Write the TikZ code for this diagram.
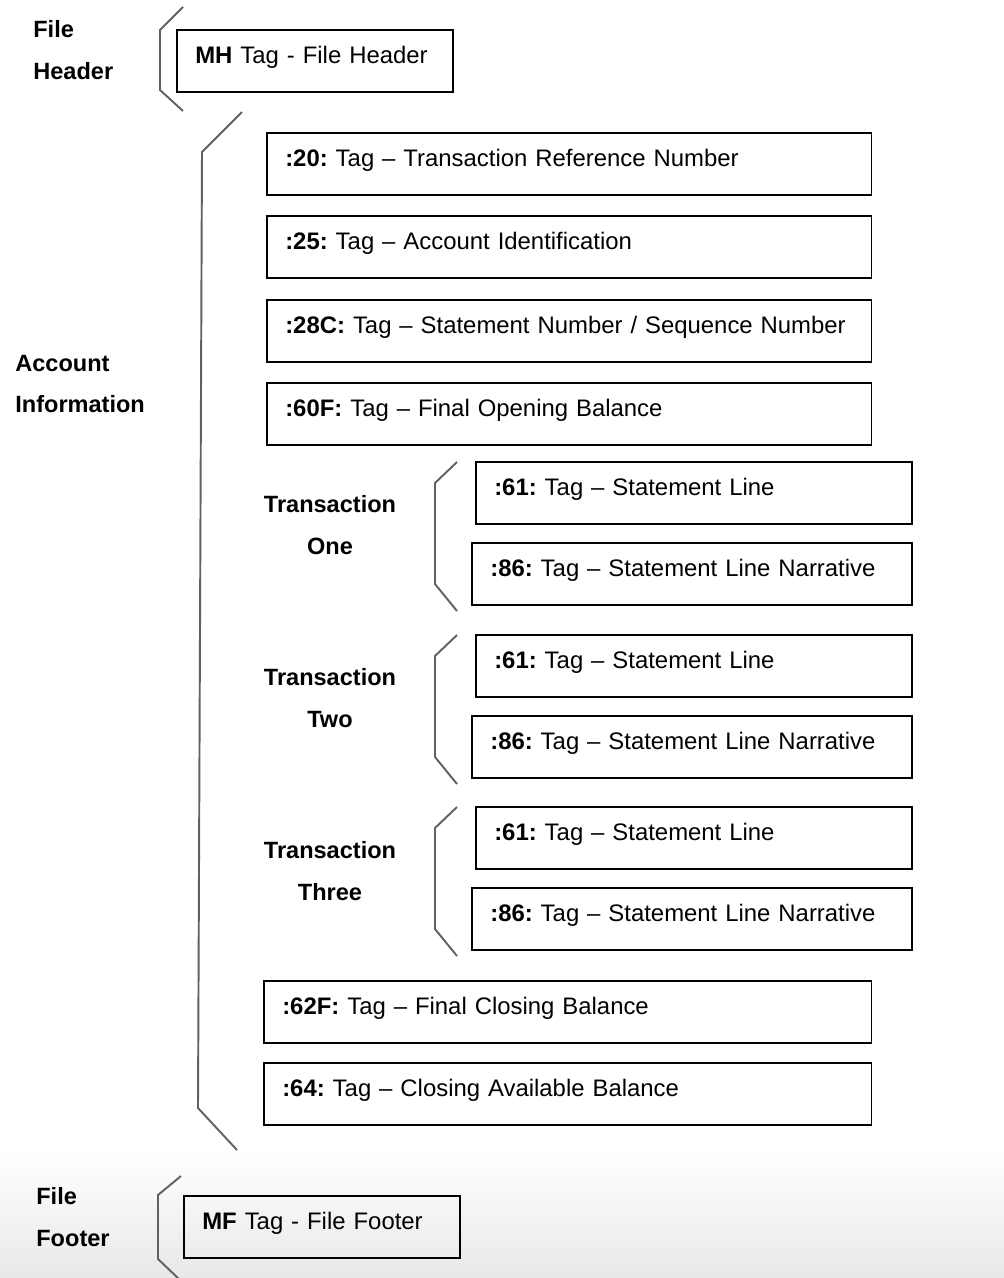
\documentclass[tikz,border=0pt]{standalone}
\usepackage{fontspec}
\setmainfont{Liberation Sans}
\usepackage{tikz}
\frenchspacing

\tikzset{
  tagbox/.style={draw=black,line width=0.9pt,anchor=north west,inner xsep=0.37cm,inner ysep=0pt,
    text height=0.67cm,text depth=0.57cm,align=left,text width=#1,
    font=\fontsize{13.6}{16}\selectfont},
  grouptxt/.style={font=\fontsize{13.4}{23.8}\selectfont\bfseries,inner sep=0pt},
  brk/.style={draw=black!62,line width=1.1pt}
}

\begin{document}
\begin{tikzpicture}[x=0.02cm,y=-0.02cm]
\useasboundingbox (0,0) rectangle (1004,1278);
\shade[top color=white,bottom color=black!9] (0,1150) rectangle (1004,1278);

\node[grouptxt,align=left,anchor=west] (hdrtxt) at (33,50) {File\\Header};
\draw[brk] (183,7) -- (160,30) -- (160,90) -- (183,111);
\node[tagbox=4.78cm] (mh) at (176,29) {\textbf{MH} Tag - File Header};

\node[grouptxt,align=left,anchor=west] (acctxt) at (15,384) {Account\\Information};
\draw[brk] (242,112) -- (202,152) -- (198,1108) -- (237,1150);
\node[tagbox=11.36cm] (t20) at (266,132) {\textbf{:20:} Tag -- Transaction Reference Number};
\node[tagbox=11.36cm] (t25) at (266,215) {\textbf{:25:} Tag -- Account Identification};
\node[tagbox=11.36cm] (t28c) at (266,299) {\textbf{:28C:} Tag -- Statement Number / Sequence Number};
\node[tagbox=11.36cm] (t60f) at (266,382) {\textbf{:60F:} Tag -- Final Opening Balance};

\node[grouptxt,align=center] (txone) at (330,525) {Transaction\\One};
\draw[brk] (457,462) -- (435,483) -- (435,584) -- (457,611);
\node[tagbox=7.98cm] (onesixone) at (475,461) {\textbf{:61:} Tag -- Statement Line};
\node[tagbox=8.06cm] (oneeightsix) at (471,542) {\textbf{:86:} Tag -- Statement Line Narrative};

\node[grouptxt,align=center] (txtwo) at (330,698) {Transaction\\Two};
\draw[brk] (457,635) -- (435,656) -- (435,757) -- (457,784);
\node[tagbox=7.98cm] (twosixone) at (475,634) {\textbf{:61:} Tag -- Statement Line};
\node[tagbox=8.06cm] (twoeightsix) at (471,715) {\textbf{:86:} Tag -- Statement Line Narrative};

\node[grouptxt,align=center] (txthree) at (330,871) {Transaction\\Three};
\draw[brk] (457,807) -- (435,828) -- (435,929) -- (457,956);
\node[tagbox=7.98cm] (threesixone) at (475,806) {\textbf{:61:} Tag -- Statement Line};
\node[tagbox=8.06cm] (threeeightsix) at (471,887) {\textbf{:86:} Tag -- Statement Line Narrative};

\node[tagbox=11.42cm] (t62f) at (263,980) {\textbf{:62F:} Tag -- Final Closing Balance};
\node[tagbox=11.42cm] (t64) at (263,1062) {\textbf{:64:} Tag -- Closing Available Balance};

\node[grouptxt,align=left,anchor=west] (ftrtxt) at (36,1217) {File\\Footer};
\draw[brk] (181,1176) -- (158,1195) -- (158,1259) -- (180,1280);
\node[tagbox=4.78cm] (mf) at (183,1195) {\textbf{MF} Tag - File Footer};
\end{tikzpicture}
\end{document}
